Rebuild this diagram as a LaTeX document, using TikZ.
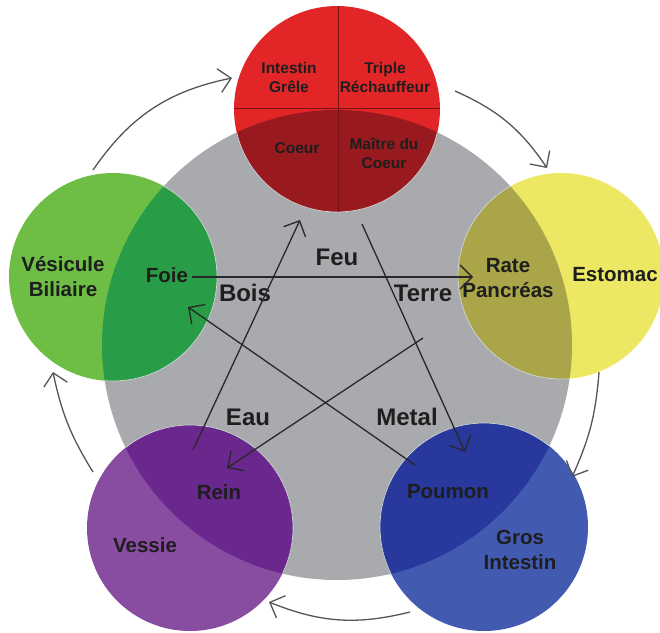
\documentclass[tikz,border=0pt]{standalone}
\usepackage{fontspec}
\setmainfont{Liberation Sans}
\usetikzlibrary{arrows.meta}
\definecolor{graybg}{RGB}{169,170,174}
\definecolor{redl}{RGB}{226,38,40}
\definecolor{redd}{RGB}{152,26,30}
\definecolor{redline}{RGB}{120,18,20}
\definecolor{yell}{RGB}{236,232,100}
\definecolor{yeld}{RGB}{170,165,72}
\definecolor{grel}{RGB}{110,190,70}
\definecolor{gred}{RGB}{40,156,70}
\definecolor{purl}{RGB}{136,76,160}
\definecolor{purd}{RGB}{106,40,142}
\definecolor{blul}{RGB}{66,90,176}
\definecolor{blud}{RGB}{40,56,156}
\definecolor{txt}{RGB}{30,30,30}
\definecolor{starc}{RGB}{40,40,40}
\definecolor{arcc}{RGB}{85,85,85}
\definecolor{rim}{RGB}{205,215,212}
\begin{document}
\begin{tikzpicture}[x=1pt,y=-1pt,
  organ/.style={font=\bfseries\fontsize{20.5}{25}\selectfont, text=txt, align=center, inner sep=0pt},
  small/.style={font=\bfseries\fontsize{15.5}{19}\selectfont, text=txt, align=center, inner sep=0pt},
  elem/.style={font=\bfseries\fontsize{24}{28}\selectfont, text=txt, align=center, inner sep=0pt},
  star/.style={draw=starc, line width=1.3pt, -{Straight Barb[length=12pt,width=24pt,line width=1.3pt]}},
  cyc/.style={draw=arcc, line width=1.3pt, -{Straight Barb[length=12pt,width=24pt,line width=1.3pt]}},
]
\useasboundingbox (0,0) rectangle (660,632);
% circle centres
\coordinate (cg) at (337,345);
\coordinate (cr) at (337,109);
\coordinate (cgr) at (113,277);
\coordinate (cy) at (561,276);
\coordinate (cp) at (190,528);
\coordinate (cb) at (484,527);
% big gray circle
\fill[graybg] (cg) circle[radius=235pt];
% coloured circles
\fill[redl] (cr) circle[radius=103pt];
\fill[grel] (cgr) circle[radius=104pt];
\fill[yell] (cy) circle[radius=103pt];
\fill[purl] (cp) circle[radius=103pt];
\fill[blul] (cb) circle[radius=104pt];
% darker overlaps
\begin{scope}
  \clip (cg) circle[radius=235pt];
  \fill[redd] (cr) circle[radius=103pt];
  \fill[gred] (cgr) circle[radius=104pt];
  \fill[yeld] (cy) circle[radius=103pt];
  \fill[purd] (cp) circle[radius=103pt];
  \fill[blud] (cb) circle[radius=104pt];
  \draw[rim, line width=0.7pt] (cr) circle[radius=103pt] (cgr) circle[radius=104pt]
     (cy) circle[radius=103pt] (cp) circle[radius=103pt] (cb) circle[radius=104pt];
\end{scope}
% red dividers
\begin{scope}
  \clip (cr) circle[radius=103pt];
  \draw[redline, line width=1pt] (338,0) -- (338,220);
  \draw[redline, line width=1pt] (220,108) -- (450,108);
\end{scope}
% texts
\node[small] (ig) at (289,77) {Intestin\\Grêle};
\node[small] (tr) at (385,77) {Triple\\Réchauffeur};
\node[small] (co) at (297,148) {Coeur};
\node[small] (mc) at (384,153) {Maître du\\Coeur};
\node[organ] (vb) at (63,277) {Vésicule\\Biliaire};
\node[organ] (fo) at (167,275) {Foie};
\node[organ] (rp) at (508,278) {Rate\\Pancréas};
\node[organ] (es) at (615,275) {Estomac};
\node[organ] (re) at (219,492) {Rein};
\node[organ] (ve) at (145,545) {Vessie};
\node[organ] (po) at (448,492) {Poumon};
\node[organ] (gi) at (520,550) {Gros\\Intestin};
\node[elem] (bo) at (245,293) {Bois};
\node[elem] (fe) at (337,257) {Feu};
\node[elem] (te) at (423,293) {Terre};
\node[elem] (ea) at (248,417) {Eau};
\node[elem] (me) at (407,417) {Metal};
% star arrow ends
\coordinate (fo1) at (192,277);
\coordinate (ra1) at (473,277);
\coordinate (re1) at (193,450);
\coordinate (co1) at (300,220);
\coordinate (co2) at (362,224);
\coordinate (po1) at (465,452);
\coordinate (ra2) at (423,338);
\coordinate (re2) at (227,468);
\coordinate (po2) at (415,465);
\coordinate (fo2) at (188,307);
\draw[star] (fo1) -- (ra1);
\draw[star] (re1) -- (co1);
\draw[star] (co2) -- (po1);
\draw[star] (ra2) -- (re2);
\draw[star] (po2) -- (fo2);
% cycle arcs
\coordinate (a1) at (93,170);
\coordinate (a2) at (232,78);
\coordinate (b1) at (455,91);
\coordinate (b2) at (547,168);
\coordinate (c1) at (599,372);
\coordinate (c2) at (572,477);
\coordinate (d1) at (410,612);
\coordinate (d2) at (269,602);
\coordinate (e1) at (93,472);
\coordinate (e2) at (53,372);
\draw[cyc] (a1) to[bend left=22] (a2);
\draw[cyc] (b1) to[bend left=16] (b2);
\draw[cyc] (c1) to[bend left=10] (c2);
\draw[cyc] (d1) to[bend left=18] (d2);
\draw[cyc] (e1) to[bend left=10] (e2);
\end{tikzpicture}
\end{document}
